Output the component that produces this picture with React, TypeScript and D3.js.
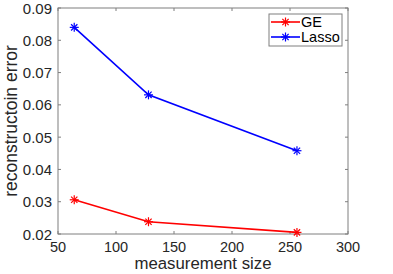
import React from "react";
import * as d3 from "d3";

const sizes = [64, 128, 256];
const geErr = [0.0306, 0.0238, 0.0205];
const lassoErr = [0.084, 0.0631, 0.0458];
const xTicks = [50, 100, 150, 200, 250, 300];
const yTicks = [0.02, 0.03, 0.04, 0.05, 0.06, 0.07, 0.08, 0.09];
const seriesNames = ["GE", "Lasso"];
const seriesColors = ["#ff0000", "#0000ff"];

const W = 393, H = 274;
const m = { l: 58, r: 45, t: 8, b: 40 };
const FONT = "'Liberation Sans', Arial, Helvetica, sans-serif";
const AX = "#262626";
const BOX = "#7f7f7f";

function Star({ x, y, color }: { x: number; y: number; color: string }) {
  const r = 4.5;
  const d = r * 0.7;
  return (
    <g stroke={color} strokeWidth={1.2}>
      <line x1={x - r} y1={y} x2={x + r} y2={y} />
      <line x1={x} y1={y - r} x2={x} y2={y + r} />
      <line x1={x - d} y1={y - d} x2={x + d} y2={y + d} />
      <line x1={x - d} y1={y + d} x2={x + d} y2={y - d} />
    </g>
  );
}

export default function App() {
  const x = d3.scaleLinear().domain([50, 300]).range([m.l, W - m.r]);
  const y = d3.scaleLinear().domain([0.02, 0.09]).range([H - m.b, m.t]);
  const line = d3
    .line<number>()
    .x((_, i) => x(sizes[i]))
    .y((d) => y(d));
  const series = [geErr, lassoErr];
  const x0 = x.range()[0], x1 = x.range()[1];
  const y0 = y.range()[0], y1 = y.range()[1];
  const tl = 3;
  return (
    <svg width={W} height={H} style={{ position: "absolute", left: 0, top: 0, background: "#fff" }} fontFamily={FONT}>
      <rect x={0} y={0} width={W} height={H} fill="#fff" />
      <rect x={x0} y={y1} width={x1 - x0} height={y0 - y1} fill="none" stroke={BOX} strokeWidth={1} />
      {xTicks.map((t) => (
        <g key={"x" + t}>
          <line x1={x(t)} x2={x(t)} y1={y0} y2={y0 - tl} stroke={BOX} />
          <line x1={x(t)} x2={x(t)} y1={y1} y2={y1 + tl} stroke={BOX} />
          <text x={x(t)} y={y0 + 18} textAnchor="middle" fontSize={14.5} fill={AX}>
            {t}
          </text>
        </g>
      ))}
      {yTicks.map((t) => (
        <g key={"y" + t}>
          <line x1={x0} x2={x0 + tl} y1={y(t)} y2={y(t)} stroke={BOX} />
          <line x1={x1} x2={x1 - tl} y1={y(t)} y2={y(t)} stroke={BOX} />
          <text x={x0 - 6} y={y(t) + 5.5} textAnchor="end" fontSize={15} fill={AX}>
            {t.toFixed(2)}
          </text>
        </g>
      ))}
      <text x={(x0 + x1) / 2} y={269} textAnchor="middle" fontSize={16.8} fill={AX}>
        measurement size
      </text>
      <text
        transform={`translate(17,${(y0 + y1) / 2}) rotate(-90)`}
        textAnchor="middle"
        fontSize={17.5}
        fill={AX}
      >
        reconstructoin error
      </text>
      {series.map((s, k) => (
        <g key={k}>
          <path d={line(s) || ""} fill="none" stroke={seriesColors[k]} strokeWidth={1.6} />
          {s.map((v, i) => (
            <Star key={i} x={x(sizes[i])} y={y(v)} color={seriesColors[k]} />
          ))}
        </g>
      ))}
      <rect x={269} y={14} width={73} height={32} fill="#fff" stroke={BOX} strokeWidth={1} />
      {seriesNames.map((n, k) => (
        <g key={n}>
          <line x1={271} x2={300} y1={22 + k * 15} y2={22 + k * 15} stroke={seriesColors[k]} strokeWidth={1.6} />
          <Star x={285.5} y={22 + k * 15} color={seriesColors[k]} />
          <text x={301} y={27 + k * 15} fontSize={14.5} fill="#000">
            {n}
          </text>
        </g>
      ))}
    </svg>
  );
}
